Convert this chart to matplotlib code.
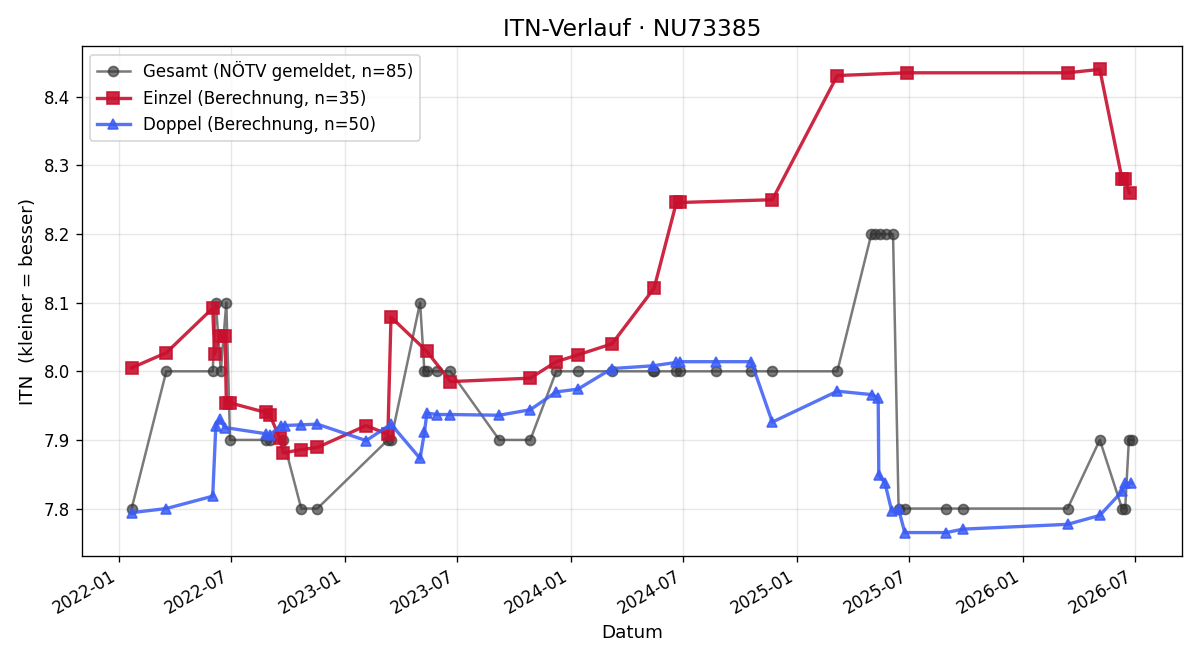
import pandas as pd
import matplotlib
matplotlib.use("Agg")
import matplotlib.pyplot as plt
import matplotlib.dates as mdates

# Gesamt (NÖTV gemeldet)
gesamt_dates = [
    "2022-01-22", "2022-03-19", "2022-06-02", "2022-06-07", "2022-06-15",
    "2022-06-24", "2022-06-30", "2022-08-27", "2022-09-02", "2022-09-24",
    "2022-10-23", "2022-11-18", "2023-03-12", "2023-03-17", "2023-05-03",
    "2023-05-10", "2023-05-14", "2023-05-31", "2023-06-21", "2023-09-08",
    "2023-10-28", "2023-12-09", "2024-01-13", "2024-03-08", "2024-05-13",
    "2024-05-15", "2024-06-20", "2024-06-26", "2024-08-23", "2024-10-19",
    "2024-11-22", "2025-03-07", "2025-05-01", "2025-05-07", "2025-05-15",
    "2025-05-25", "2025-06-05", "2025-06-14", "2025-06-24", "2025-08-30",
    "2025-09-26", "2026-03-14", "2026-05-05", "2026-06-10", "2026-06-15",
    "2026-06-21", "2026-06-26",
]
gesamt_itn = [
    7.8, 8.0, 8.0, 8.1, 8.0,
    8.1, 7.9, 7.9, 7.9, 7.9,
    7.8, 7.8, 7.9, 7.9, 8.1,
    8.0, 8.0, 8.0, 8.0, 7.9,
    7.9, 8.0, 8.0, 8.0, 8.0,
    8.0, 8.0, 8.0, 8.0, 8.0,
    8.0, 8.0, 8.2, 8.2, 8.2,
    8.2, 8.2, 7.8, 7.8, 7.8,
    7.8, 7.8, 7.9, 7.8, 7.8,
    7.9, 7.9,
]

# Einzel (Berechnung)
einzel_dates = [
    "2022-01-22", "2022-03-19", "2022-06-02", "2022-06-05", "2022-06-13",
    "2022-06-22", "2022-06-24", "2022-06-30", "2022-08-27", "2022-09-02",
    "2022-09-18", "2022-09-24", "2022-10-23", "2022-11-18", "2023-02-05",
    "2023-03-12", "2023-03-17", "2023-05-14", "2023-06-21", "2023-10-28",
    "2023-12-09", "2024-01-13", "2024-03-08", "2024-05-15", "2024-06-20",
    "2024-06-26", "2024-11-22", "2025-03-07", "2025-06-27", "2026-03-14",
    "2026-05-05", "2026-06-10", "2026-06-14", "2026-06-22",
]
einzel_itn = [
    8.005, 8.027, 8.092, 8.025, 8.052,
    8.052, 7.954, 7.954, 7.940, 7.937,
    7.903, 7.881, 7.886, 7.889, 7.921,
    7.908, 8.079, 8.029, 7.985, 7.990,
    8.014, 8.024, 8.040, 8.121, 8.246,
    8.246, 8.250, 8.431, 8.435, 8.435,
    8.440, 8.280, 8.280, 8.260,
]

# Doppel (Berechnung)
doppel_dates = [
    "2022-01-22", "2022-03-19", "2022-06-02", "2022-06-07", "2022-06-13",
    "2022-06-22", "2022-08-27", "2022-09-02", "2022-09-20", "2022-09-26",
    "2022-10-23", "2022-11-18", "2023-02-05", "2023-03-17", "2023-05-03",
    "2023-05-10", "2023-05-14", "2023-05-31", "2023-06-21", "2023-09-08",
    "2023-10-28", "2023-12-09", "2024-01-13", "2024-03-08", "2024-05-13",
    "2024-06-20", "2024-06-26", "2024-08-23", "2024-10-19", "2024-11-22",
    "2025-03-07", "2025-05-02", "2025-05-12", "2025-05-13", "2025-05-23",
    "2025-06-03", "2025-06-14", "2025-06-24", "2025-08-30", "2025-09-26",
    "2026-03-14", "2026-05-05", "2026-06-10", "2026-06-15", "2026-06-25",
]
doppel_itn = [
    7.794, 7.800, 7.818, 7.920, 7.930,
    7.918, 7.909, 7.907, 7.921, 7.921,
    7.922, 7.923, 7.899, 7.923, 7.873,
    7.911, 7.939, 7.937, 7.937, 7.936,
    7.944, 7.970, 7.974, 8.004, 8.008,
    8.013, 8.014, 8.014, 8.014, 7.926,
    7.971, 7.966, 7.961, 7.849, 7.837,
    7.796, 7.799, 7.765, 7.765, 7.770,
    7.777, 7.790, 7.825, 7.837, 7.837,
]


def plot_itn():
    """ITN history per category"""
    fig, ax = plt.subplots(figsize=(10, 5.5), dpi=120)

    ax.plot(pd.to_datetime(gesamt_dates), gesamt_itn, marker="o", ms=6,
            lw=1.5, color="#333333", alpha=0.65,
            label="Gesamt (NÖTV gemeldet, n=85)")
    ax.plot(pd.to_datetime(einzel_dates), einzel_itn, marker="s", ms=7,
            lw=2, color="#c8102e", alpha=0.9,
            label="Einzel (Berechnung, n=35)")
    ax.plot(pd.to_datetime(doppel_dates), doppel_itn, marker="^", ms=6.5,
            lw=2, color="#3a5cf5", alpha=0.85,
            label="Doppel (Berechnung, n=50)")

    ax.xaxis.set_major_locator(mdates.MonthLocator(bymonth=[1, 7]))
    ax.xaxis.set_major_formatter(mdates.DateFormatter("%Y-%m"))
    ax.set_xlabel("Datum", fontsize=11)
    ax.set_ylabel("ITN  (kleiner = besser)", fontsize=11)
    ax.set_title("ITN-Verlauf · NU73385", fontsize=14)
    ax.grid(True, alpha=0.3)
    ax.legend(loc="upper left")
    fig.autofmt_xdate()
    fig.subplots_adjust(left=0.068, right=0.985, top=0.930, bottom=0.158)

    fig.savefig("out.png")


if __name__ == "__main__":
    plot_itn()
